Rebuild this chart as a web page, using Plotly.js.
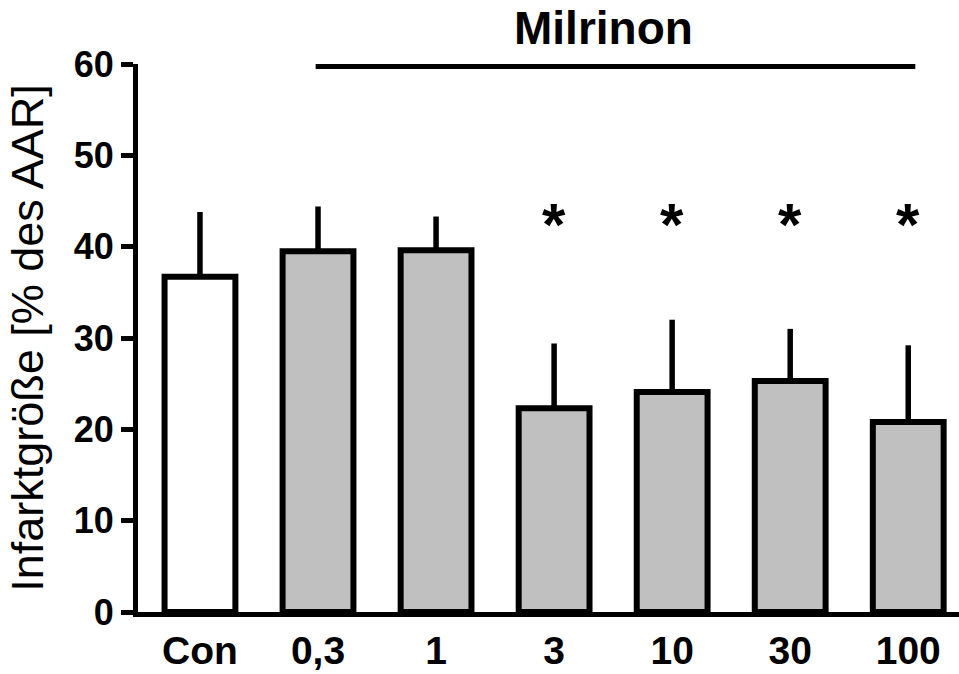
<!DOCTYPE html>
<html>
<head>
<meta charset="utf-8">
<script src="https://cdn.plot.ly/plotly-3.0.1.min.js"></script>
<style>
  html, body { margin: 0; padding: 0; background: #fff; }
  #chart { width: 959px; height: 674px; }
</style>
</head>
<body>
<div id="chart"></div>
<script>
// Infarct size per group (mean + SEM), Milrinon doses vs. control
const categories = ["Con", "0,3", "1", "3", "10", "30", "100"];
const infarctMean = [36.7, 39.5, 39.6, 22.3, 24.1, 25.3, 20.8];
const infarctSem = [7.1, 4.9, 3.7, 7.1, 7.9, 5.7, 8.4];
const barFills = ["#ffffff", "#c0c0c0", "#c0c0c0", "#c0c0c0", "#c0c0c0", "#c0c0c0", "#c0c0c0"];
const significant = ["3", "10", "30", "100"];
const yTicks = [0, 10, 20, 30, 40, 50, 60];

const FONT = "Liberation Sans, Arial, Helvetica, sans-serif";

const bars = {
  type: "bar",
  x: categories,
  y: infarctMean,
  width: 0.6,
  marker: { color: barFills, line: { color: "#000", width: 6 } },
  error_y: {
    type: "data",
    symmetric: false,
    array: infarctSem,
    arrayminus: infarctMean.map(() => 0),
    color: "#000",
    thickness: 5.5,
    width: 0
  },
  hoverinfo: "x+y"
};

// asterisks above the significantly different groups
// (category positions are given as indices so labels like "10" are not read as numbers)
const starAnnotations = significant.map(c => ({
  x: categories.indexOf(c), y: 42.4, xref: "x", yref: "y",
  text: "*", showarrow: false,
  font: { family: FONT, size: 60, color: "#000", weight: "bold" },
  yanchor: "middle"
}));

// bracket spanning all Milrinon doses
const doseStart = categories.indexOf("0,3");
const doseEnd = categories.indexOf("100");

const layout = {
  width: 959, height: 674,
  margin: { l: 138, r: 0, t: 64, b: 62 },
  paper_bgcolor: "#fff", plot_bgcolor: "#fff",
  showlegend: false,
  xaxis: {
    type: "category",
    range: [-0.525, 6.43],
    showline: true, linecolor: "#000", linewidth: 5,
    ticks: "", showgrid: false, zeroline: false,
    tickfont: { family: FONT, size: 39, color: "#000", weight: "bold" },
    fixedrange: true
  },
  yaxis: {
    range: [0, 60],
    tickvals: yTicks,
    showline: true, linecolor: "#000", linewidth: 5,
    ticks: "outside", ticklen: 12, tickwidth: 5, tickcolor: "#000",
    showgrid: false, zeroline: false,
    tickfont: { family: FONT, size: 36, color: "#000", weight: "bold" },
    title: {
      text: "Infarktgröße [% des AAR]",
      font: { family: FONT, size: 45, color: "#000" },
      standoff: 18
    },
    fixedrange: true
  },
  shapes: [{
    type: "line", xref: "x", yref: "y",
    x0: doseStart - 0.02, x1: doseEnd + 0.06, y0: 59.9, y1: 59.9,
    line: { color: "#000", width: 8 }
  }],
  annotations: [{
    x: (doseStart + doseEnd) / 2 - 0.08, y: 1, xref: "x", yref: "paper",
    yshift: 36,
    text: "Milrinon", showarrow: false,
    font: { family: FONT, size: 46, color: "#000", weight: "bold" },
    yanchor: "middle"
  }].concat(starAnnotations)
};

Plotly.newPlot("chart", [bars], layout, { displayModeBar: false, responsive: false });
</script>
</body>
</html>
